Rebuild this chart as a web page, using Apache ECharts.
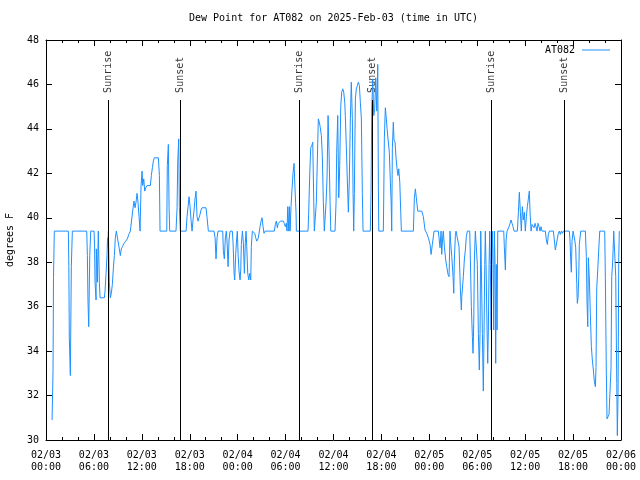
<!DOCTYPE html>
<html><head><meta charset="utf-8">
<script src="https://cdn.jsdelivr.net/npm/echarts@6/dist/echarts.min.js"></script>
<style>html,body{margin:0;padding:0;background:#fff}#c{width:640px;height:480px}</style>
</head><body><div id="c"></div>
<script>
// time in hours since 2025-02-03 00:00 UTC
const hours = [
0.76,0.88,0.94,1.04,2.80,2.86,2.92,3.05,3.17,3.30,5.10,5.18,5.26,5.35,5.48,5.60,6.02,6.08,6.14,6.27,
6.30,6.43,6.55,6.68,6.77,7.31,7.39,7.52,7.64,7.71,7.77,7.81,7.93,8.06,8.18,8.31,8.43,8.56,8.68,8.81,
9.06,9.18,9.31,9.43,9.56,9.77,9.98,10.19,10.36,10.56,10.77,10.90,11.02,11.15,11.27,11.40,11.52,11.65,11.78,11.90,
12.03,12.11,12.24,12.36,12.49,12.65,13.07,13.19,13.32,13.44,13.57,14.07,14.20,14.28,15.12,15.19,15.32,15.41,15.49,16.28,
16.41,16.50,16.62,16.70,16.82,17.54,17.66,17.79,17.91,18.04,18.16,18.29,18.41,18.54,18.66,18.79,18.91,19.04,19.16,19.29,
19.41,19.54,20.04,20.17,20.33,21.04,21.17,21.29,21.42,21.54,22.13,22.21,22.33,22.46,22.58,22.67,22.80,22.92,23.05,23.33,
23.42,23.55,23.63,23.76,23.88,23.96,24.05,24.17,24.30,24.39,24.46,24.59,24.71,24.84,24.96,25.05,25.14,25.26,25.39,25.51,
25.64,25.71,25.84,26.01,26.14,26.26,26.39,26.55,26.68,26.80,26.93,27.05,27.18,27.30,27.43,28.59,28.72,28.84,28.97,29.09,
29.22,29.34,29.72,29.84,29.97,30.09,30.18,30.27,30.40,30.47,30.56,30.68,30.81,30.93,31.06,31.18,31.31,31.35,32.81,32.90,
33.03,33.15,33.28,33.40,33.53,33.60,33.73,33.85,33.98,34.10,34.23,34.35,34.48,34.60,34.73,34.85,34.98,35.07,35.19,35.32,
35.44,35.57,35.66,36.19,36.32,36.40,36.53,36.66,36.78,36.91,37.03,37.16,37.28,37.41,37.48,37.61,37.73,37.86,37.98,38.11,
38.23,38.36,38.45,38.53,38.61,38.74,38.86,38.99,39.11,39.24,39.36,39.49,39.61,39.70,40.61,40.70,40.79,40.91,41.04,41.16,
41.29,41.42,41.54,41.62,41.67,42.24,42.29,42.37,42.49,42.58,42.71,42.87,42.99,43.12,43.21,43.29,43.37,43.49,43.58,43.71,
43.83,43.96,44.08,44.17,44.30,44.42,44.50,46.00,46.12,46.25,46.37,46.46,46.55,47.05,47.25,47.46,47.67,47.88,48.09,48.22,
48.38,48.59,49.13,49.34,49.47,49.55,49.68,49.75,49.88,50.05,50.18,50.34,50.47,50.51,50.59,50.68,50.81,50.97,51.06,51.13,
51.26,51.34,51.56,51.72,51.88,52.01,52.06,52.13,52.26,52.38,52.51,52.63,52.76,53.06,53.14,53.26,53.39,53.47,53.56,53.64,
53.76,53.94,54.01,54.14,54.26,54.35,54.44,54.51,54.64,54.76,54.85,54.94,55.01,55.10,55.23,55.31,55.39,55.48,55.56,55.64,
55.73,55.81,55.89,55.98,56.06,56.14,56.23,56.31,56.39,56.48,56.57,57.32,57.39,57.52,57.61,57.73,57.86,57.98,58.11,58.23,
58.36,58.48,58.61,59.02,59.15,59.27,59.40,59.52,59.65,59.77,59.90,60.02,60.15,60.27,60.40,60.52,60.61,60.74,60.86,60.99,
61.11,61.24,61.36,61.49,61.61,61.74,61.86,61.99,62.11,62.53,62.65,62.78,62.90,63.03,63.53,63.65,63.78,64.03,64.15,64.28,
64.40,64.53,64.66,64.78,65.53,65.62,65.71,65.78,65.87,66.00,66.12,66.21,66.33,66.46,66.53,66.62,66.71,66.78,66.96,67.54,
67.66,67.75,67.84,67.91,68.04,68.16,68.29,68.41,68.54,68.66,68.79,68.87,68.96,69.09,69.21,69.34,69.96,70.04,70.16,70.25,
70.38,70.50,70.67,70.75,70.84,70.97,71.09,71.22,71.34,71.47,71.54,71.63,71.72,71.79
];
// dew point, degrees F
const dewPoint = [
30.9,33.1,37.3,39.4,39.4,37.8,34.6,32.9,37.8,39.4,39.4,38.3,36.2,35.1,38.3,39.4,39.4,38.7,37.1,36.3,
38.6,37.1,39.4,37.1,36.4,36.4,36.7,37.5,38.3,39.1,38.7,39.4,37.1,36.4,36.6,37.0,37.7,38.3,39.1,39.4,
39.4,38.6,38.3,38.6,38.7,38.85,38.95,39.05,39.25,39.4,39.4,40.45,40.75,40.45,40.7,41.1,40.7,40.05,39.4,41.45,
42.1,41.45,41.75,41.2,41.35,41.45,41.45,41.9,42.25,42.55,42.7,42.7,41.9,39.4,39.4,42.35,43.3,40.45,39.4,39.4,
40.45,42.55,43.55,40.45,39.4,39.4,40.05,40.5,40.95,40.5,39.9,39.4,39.9,40.35,40.85,41.2,40.05,39.85,40.0,40.15,
40.35,40.45,40.45,40.0,39.4,39.4,39.1,38.15,39.1,39.4,39.4,38.5,38.15,39.1,39.4,38.95,37.8,39.0,39.4,39.4,
38.9,37.5,37.2,38.4,39.1,39.4,38.4,37.6,37.2,37.7,38.8,39.4,38.9,37.5,38.9,39.4,38.7,37.5,37.2,37.5,
37.2,38.7,39.4,39.4,39.3,39.1,38.95,39.05,39.3,39.6,39.85,40.0,39.6,39.3,39.4,39.4,39.7,39.85,39.55,39.75,
39.7,39.85,39.85,39.75,39.6,39.75,39.4,40.5,39.4,40.5,39.4,40.5,41.3,42.0,42.45,41.3,40.25,39.4,39.4,40.3,
42.05,43.15,43.25,43.4,40.7,39.4,39.4,40.7,42.65,44.45,44.3,44.05,43.7,42.8,40.7,39.4,39.4,40.7,41.8,44.6,
43.0,40.7,39.4,39.4,40.7,42.95,44.6,40.9,42.35,45.05,45.65,45.8,45.65,45.2,44.6,43.15,41.7,40.25,41.7,44.45,
46.1,44.45,41.1,39.4,41.1,45.35,45.8,45.95,46.1,45.95,45.2,44.45,41.1,39.4,39.4,41.15,44.9,46.25,44.6,44.9,
46.3,44.8,46.9,41.35,39.4,39.4,40.85,43.6,44.95,44.6,44.0,44.0,42.95,41.6,40.8,39.4,43.1,44.3,43.5,43.4,
42.7,42.2,41.9,42.2,41.6,40.25,39.4,39.4,40.85,41.3,40.9,40.85,40.3,40.3,40.05,39.45,39.3,39.1,38.8,38.35,
38.8,39.4,39.4,38.65,39.4,38.35,39.2,39.4,38.7,38.1,37.8,37.45,37.35,38.0,39.4,38.85,38.25,37.35,36.6,38.1,
39.2,39.4,39.4,38.7,36.85,35.85,36.45,36.75,37.35,38.1,38.55,39.15,39.4,39.4,38.1,36.0,34.65,33.9,35.25,38.1,
39.4,39.4,37.9,34.8,33.15,34.8,39.4,37.9,34.8,32.2,34.8,37.9,39.4,37.9,34.95,33.45,34.95,37.9,39.4,37.9,
34.95,37.9,39.4,37.9,34.95,39.4,37.9,33.45,37.9,34.95,39.4,39.4,38.7,37.65,39.0,39.4,39.4,39.6,39.75,39.9,
39.75,39.6,39.4,39.4,40.25,41.15,40.25,39.4,40.5,39.9,40.25,39.4,40.05,40.5,40.85,41.2,40.25,39.4,39.7,39.75,
39.55,39.75,39.6,39.4,39.75,39.6,39.4,39.6,39.4,39.4,39.0,38.8,39.25,39.4,39.4,39.0,38.55,38.55,39.3,39.4,
39.25,39.4,39.3,39.4,39.4,38.95,38.05,37.55,38.95,39.4,39.4,39.0,38.65,37.0,36.15,36.4,37.35,38.8,39.4,39.4,
38.25,36.15,35.1,38.2,37.2,35.7,34.2,33.6,33.15,32.65,32.4,33.25,36.85,37.65,38.55,39.4,39.4,37.3,33.1,30.95,
31.0,31.15,31.2,33.25,37.35,38.1,39.4,39.4,37.35,32.55,30.2,31.95,38.2,39.4
];
const xTickLabels = ['02/03\n00:00','02/03\n06:00','02/03\n12:00','02/03\n18:00','02/04\n00:00','02/04\n06:00',
  '02/04\n12:00','02/04\n18:00','02/05\n00:00','02/05\n06:00','02/05\n12:00','02/05\n18:00','02/06\n00:00'];
const sunTimes = [7.80, 16.82, 31.72, 40.86, 55.76, 64.90];
const sunLabels = ['Sunrise','Sunset','Sunrise','Sunset','Sunrise','Sunset'];

const FONT = '"DejaVu Sans Mono", monospace';
const FS = 10;
const chart = echarts.init(document.getElementById('c'), null, {renderer:'canvas'});
const seriesData = hours.map((h, i) => [h, dewPoint[i]]);
const black = {color:'#000', width:1};

function xAxisDef(pos, labels) {
  return {
    type:'value', position:pos, min:0, max:72, interval:6,
    axisLine:{show:true, onZero:false, lineStyle:black},
    axisTick:{show:true, inside:true, length:6, lineStyle:black},
    minorTick:{show:true, splitNumber:3, length:3, lineStyle:black},
    splitLine:{show:false}, minorSplitLine:{show:false},
    axisLabel:{show:labels, formatter:v => xTickLabels[Math.round(v/6)], fontFamily:FONT, fontSize:FS,
      color:'#000', margin:9, lineHeight:12}
  };
}
function yAxisDef(pos, labels) {
  const a = {
    type:'value', position:pos, min:30, max:48, interval:2,
    axisLine:{show:true, onZero:false, lineStyle:black},
    axisTick:{show:true, inside:true, length:6, lineStyle:black},
    splitLine:{show:false},
    axisLabel:{show:labels, fontFamily:FONT, fontSize:FS, color:'#000', margin:7}
  };
  if (labels) {
    a.name = 'degrees F'; a.nameLocation = 'middle'; a.nameRotate = 90; a.nameGap = 31;
    a.nameTextStyle = {fontFamily:FONT, fontSize:FS, color:'#000'};
  }
  return a;
}

chart.setOption({
  animation:false,
  backgroundColor:'#fff',
  title:{text:'Dew Point for AT082 on 2025-Feb-03 (time in UTC)', left:189, top:13, padding:0,
    textStyle:{fontFamily:FONT, fontSize:FS, fontWeight:'normal', color:'#000'}},
  legend:{data:[{name:'AT082', icon:'rect'}], right:30, top:45, align:'right', itemWidth:28, itemHeight:1,
    padding:0, textStyle:{fontFamily:FONT, fontSize:FS, color:'#000', padding:[0,2,0,0]}},
  grid:{left:46, right:19, top:40, bottom:40, containLabel:false, outerBoundsMode:'none'},
  xAxis:[xAxisDef('bottom', true), xAxisDef('top', false)],
  yAxis:[yAxisDef('left', true), yAxisDef('right', false)],
  series:[
    {name:'AT082', type:'line', data:seriesData, symbol:'none', showSymbol:false,
      lineStyle:{color:'#1e90ff', width:1}, itemStyle:{color:'#1e90ff'},
      markLine:{silent:true, symbol:['none','none'], label:{show:false},
        lineStyle:{color:'#000', width:1, type:'solid'}, emphasis:{disabled:true},
        data: sunTimes.map(t => [{coord:[t,30]}, {coord:[t,45.3]}])}},
    {name:'sun', type:'scatter', symbolSize:0, silent:true,
      data: sunTimes.map((t, i) => [t, 45.62, sunLabels[i]]),
      label:{show:true, formatter:p => p.data[2], rotate:90, position:'inside', align:'left',
        verticalAlign:'middle', fontFamily:FONT, fontSize:FS, color:'#000'}}
  ]
});
</script></body></html>
